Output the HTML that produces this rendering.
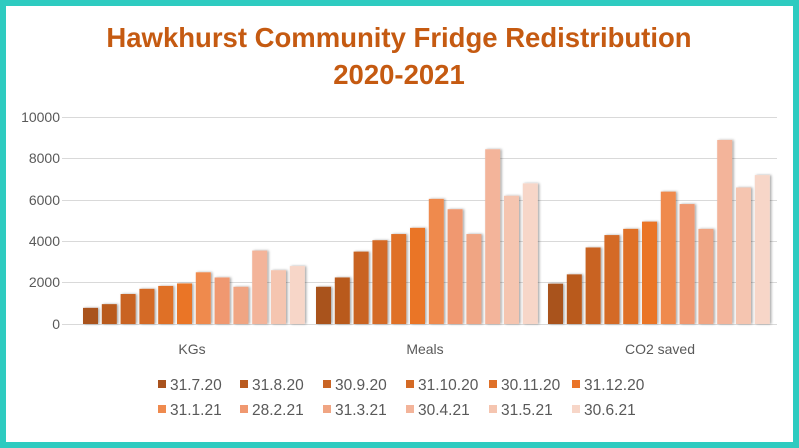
<!DOCTYPE html>
<html><head><meta charset="utf-8"><style>
html,body{margin:0;padding:0;background:#fff}
svg{display:block;font-family:"Liberation Sans",sans-serif}
</style></head><body>
<svg width="799" height="448" viewBox="0 0 799 448" xmlns="http://www.w3.org/2000/svg">
<defs>
<filter id="sh" x="-30%" y="-10%" width="160%" height="120%"><feDropShadow dx="1.5" dy="0" stdDeviation="1.2" flood-color="#000" flood-opacity="0.35"/></filter>
</defs>
<rect x="3" y="3" width="793" height="442" fill="#fff" stroke="#2ecbc0" stroke-width="6"/>
<text x="399" y="47" text-anchor="middle" font-size="27.5" font-weight="bold" fill="#c55a11">Hawkhurst Community Fridge Redistribution</text>
<text x="399" y="84" text-anchor="middle" font-size="27.5" font-weight="bold" fill="#c55a11">2020-2021</text>
<g stroke="#d9d9d9" stroke-width="1">
<line x1="62" x2="777" y1="117.5" y2="117.5"/><line x1="62" x2="777" y1="158.5" y2="158.5"/>
<line x1="62" x2="777" y1="200.5" y2="200.5"/><line x1="62" x2="777" y1="241.5" y2="241.5"/>
<line x1="62" x2="777" y1="282.5" y2="282.5"/><line x1="62" x2="777" y1="324.5" y2="324.5"/>
</g>
<g font-size="14" fill="#595959" text-anchor="end">
<text x="60" y="122">10000</text><text x="60" y="163">8000</text><text x="60" y="205">6000</text>
<text x="60" y="246">4000</text><text x="60" y="287">2000</text><text x="60" y="329">0</text>
</g>
<g id="bars" filter="url(#sh)"></g>
<g font-size="14" fill="#595959" text-anchor="middle">
<text x="192" y="354">KGs</text><text x="425" y="354">Meals</text><text x="660" y="354">CO2 saved</text>
</g>
<g id="leg" font-size="15.5" fill="#595959"></g>
<script>
var cols=["#a9521d","#b95a1f","#c96424","#d46a25","#df7028","#ea7428","#ef8a4e","#f09870","#f0a583","#f3b49a","#f5c5b0","#f7d6c8"];
var data=[[780,960,1450,1700,1840,1960,2500,2250,1800,3550,2600,2800],
[1800,2250,3500,4050,4350,4650,6050,5550,4350,8450,6200,6800],
[1950,2400,3700,4300,4600,4950,6400,5800,4600,8900,6600,7200]];
var starts=[83,316,548];var ns="http://www.w3.org/2000/svg";
var g=document.getElementById("bars");
for(var c=0;c<3;c++)for(var i=0;i<12;i++){var h=data[c][i]*0.02068;var r=document.createElementNS(ns,"rect");
r.setAttribute("x",starts[c]+i*18.8);r.setAttribute("width",15);r.setAttribute("y",324-h);r.setAttribute("height",h);r.setAttribute("fill",cols[i]);g.appendChild(r);}
var lg=document.getElementById("leg");
var labs=["31.7.20","31.8.20","30.9.20","31.10.20","30.11.20","31.12.20","31.1.21","28.2.21","31.3.21","30.4.21","31.5.21","30.6.21"];
var xs=[158,240,323,406,489,572];
for(var i=0;i<12;i++){var x=xs[i%6],y=i<6?390:415;var r=document.createElementNS(ns,"rect");
r.setAttribute("x",x);r.setAttribute("y",y-10);r.setAttribute("width",8);r.setAttribute("height",8);r.setAttribute("fill",cols[i]);lg.appendChild(r);
var t=document.createElementNS(ns,"text");t.setAttribute("x",x+12);t.setAttribute("y",y);t.textContent=labs[i];lg.appendChild(t);}
</script>
</svg>
</body></html>
